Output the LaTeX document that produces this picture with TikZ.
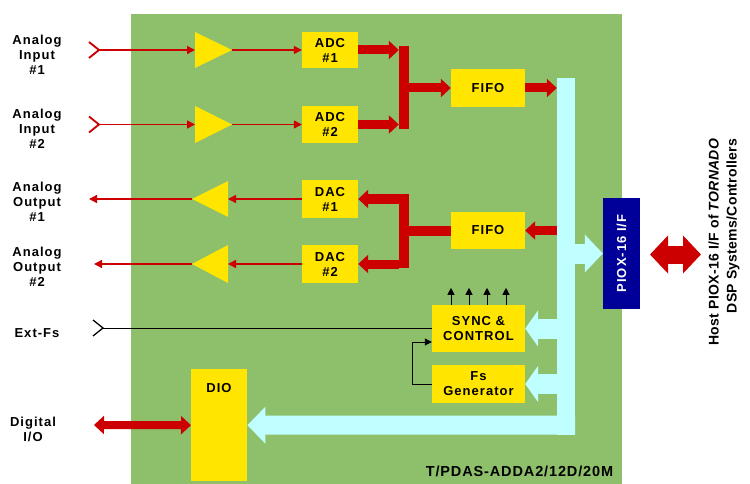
\documentclass[tikz,border=0pt]{standalone}
\usepackage{fontspec}
\setmainfont{Liberation Sans}
\newfontfamily\lblfont{Liberation Sans}[LetterSpace=8]
\newfontfamily\titlefont{Liberation Sans}[LetterSpace=6]
\newfontfamily\hostfont{Liberation Sans}[LetterSpace=2]
\usetikzlibrary{arrows.meta}
\definecolor{bggreen}{RGB}{142,191,106}
\definecolor{boxyellow}{RGB}{255,229,0}
\definecolor{sigred}{RGB}{204,0,0}
\definecolor{buscyan}{RGB}{192,255,255}
\definecolor{pionavy}{RGB}{0,0,153}
\tikzset{
  box/.style={fill=boxyellow, inner sep=0pt, align=center, font=\lblfont\bfseries\fontsize{13}{15}\selectfont},
  sidelbl/.style={align=center, inner sep=0pt, font=\lblfont\bfseries\fontsize{13}{15}\selectfont},
  thinred/.style={draw=sigred, line width=1.4pt, -{Triangle[length=8pt,width=8pt]}},
  fatred/.style={draw=sigred, line width=9pt, -{Triangle[length=10pt,width=18pt]}},
  fatcyan/.style={draw=buscyan, line width=20pt, -{Triangle[length=13pt,width=36pt]}},
  blk/.style={draw=black, line width=0.9pt, -{Triangle[length=7pt,width=7pt]}},
  amp/.style={fill=boxyellow}
}
\begin{document}
\begin{tikzpicture}[x=1pt,y=-1pt]
\useasboundingbox (0,0) rectangle (750,484);
% board
\node[fill=bggreen, minimum width=491pt, minimum height=470pt, anchor=north west, inner sep=0pt] (board) at (131,14) {};
% bus
\node[fill=buscyan, minimum width=18pt, minimum height=357pt, inner sep=0pt] (bus) at (566,256.5) {};
% boxes
\node[box, minimum width=56pt, minimum height=36pt] (adc1) at (330,50) {ADC\\\#1};
\node[box, minimum width=56pt, minimum height=37pt] (adc2) at (330,124.5) {ADC\\\#2};
\node[box, minimum width=56pt, minimum height=38pt] (dac1) at (330,199) {DAC\\\#1};
\node[box, minimum width=56pt, minimum height=38pt] (dac2) at (330,264) {DAC\\\#2};
\node[box, minimum width=74pt, minimum height=38pt] (fifo1) at (488,88) {FIFO};
\node[box, minimum width=74pt, minimum height=37pt] (fifo2) at (488,230.5) {FIFO};
\node[box, minimum width=93pt, minimum height=47pt] (sync) at (478.5,328.5) {SYNC \&\\CONTROL};
\node[box, minimum width=93pt, minimum height=38pt] (fsgen) at (478.5,384) {Fs\\Generator};
\node[box, minimum width=56pt, minimum height=112pt, anchor=north west] (dio) at (191,369) {};
\node[box, fill=none] (diolbl) at (219,388) {DIO};
\node[fill=pionavy, minimum width=111pt, minimum height=37pt, inner sep=0pt, rotate=90, text=white, font=\lblfont\bfseries\fontsize{13}{15}\selectfont] (piox) at (621.5,253.5) {PIOX-16 I/F};
% red bars
\node[fill=sigred, minimum width=10pt, minimum height=83pt, inner sep=0pt] (bar1) at (404,87.5) {};
\node[fill=sigred, minimum width=10pt, minimum height=74pt, inner sep=0pt] (bar2) at (404,231) {};
% amplifiers
\fill[amp] (195,32) -- (232,50) -- (195,68) -- cycle;
\coordinate (amp1in) at (195,50); \coordinate (amp1out) at (232,50);
\fill[amp] (195,106) -- (232,124.5) -- (195,143) -- cycle;
\coordinate (amp2in) at (195,124.5); \coordinate (amp2out) at (232,124.5);
\fill[amp] (228,181) -- (192,199) -- (228,217) -- cycle;
\coordinate (amp3in) at (228,199); \coordinate (amp3out) at (192,199);
\fill[amp] (228,245) -- (192,264) -- (228,283) -- cycle;
\coordinate (amp4in) at (228,264); \coordinate (amp4out) at (192,264);
% inputs
\coordinate (in1) at (99,50); \coordinate (in2) at (99,124.5);
\draw[sigred, line width=1.8pt] (89,42) -- (in1) -- (89,58);
\draw[sigred, line width=1.8pt] (89,116.5) -- (in2) -- (89,132.5);
\draw[thinred] (in1) -- (amp1in);
\draw[thinred] (amp1out) -- (adc1.west);
\draw[thinred] (in2) -- (amp2in);
\draw[thinred] (amp2out) -- (adc2.west);
% outputs
\coordinate (out1) at (89,199); \coordinate (out2) at (94,264);
\draw[thinred] (dac1.west) -- (amp3in);
\draw[thinred] (amp3out) -- (out1);
\draw[thinred] (dac2.west) -- (amp4in);
\draw[thinred] (amp4out) -- (out2);
% ADC side
\draw[fatred] (adc1.east) -- (adc1.east -| bar1.west);
\draw[fatred] (adc2.east) -- (adc2.east -| bar1.west);
\draw[fatred] (bar1.east |- fifo1.west) -- (fifo1.west);
\draw[fatred] (fifo1.east) -- (fifo1.east -| bus.west);
% DAC side
\draw[fatred] (bus.west |- fifo2.east) -- (fifo2.east);
\draw[sigred, line width=10pt] (fifo2.west) -- (fifo2.west -| bar2.east);
\draw[fatred] (bar2.west |- dac1.east) -- (dac1.east);
\draw[fatred] (bar2.west |- dac2.east) -- (dac2.east);
% cyan arrows
\draw[fatcyan] (bus.west |- sync.east) -- (sync.east);
\draw[fatcyan] (bus.west |- fsgen.east) -- (fsgen.east);
\coordinate (busbot) at (575,425);
\draw[draw=buscyan, line width=19pt, -{Triangle[length=18pt,width=36pt]}] (busbot) -- (dio.east);
\draw[draw=buscyan, line width=20pt, -{Triangle[length=18pt,width=37pt]}] (bus.east |- piox.center) -- (piox.north);
% host arrow
\coordinate (h1) at (650,254.5); \coordinate (h2) at (701,254.5);
\draw[sigred, line width=18pt, {Triangle[length=18pt,width=37pt]}-{Triangle[length=18pt,width=37pt]}] (h1) -- (h2);
% digital I/O
\coordinate (dig) at (94,425);
\draw[sigred, line width=8pt, {Triangle[length=10pt,width=18pt]}-{Triangle[length=10pt,width=18pt]}] (dig) -- (dio.west);
% Ext-Fs
\coordinate (extfs) at (103,328);
\draw[black, line width=1.3pt] (93,320) -- (extfs) -- (93,336);
\draw[black, line width=0.9pt] (extfs) -- (extfs -| sync.west);
% loop
\draw[blk] (fsgen.west) -- ++(-19,0) |- ([yshift=-13.5pt]sync.west);
% small control arrows
\foreach \dx in {-27.5,-9.5,8.5,27.5}
  \draw[blk] ([xshift=\dx pt]sync.north) -- ++(0,-17);
% labels
\node[sidelbl] (lin1) at (37,55) {Analog\\Input\\\#1};
\node[sidelbl] (lin2) at (37,129) {Analog\\Input\\\#2};
\node[sidelbl] (lout1) at (37,202) {Analog\\Output\\\#1};
\node[sidelbl] (lout2) at (37,267) {Analog\\Output\\\#2};
\node[sidelbl] (lext) at (37,333) {Ext-Fs};
\node[sidelbl] (ldig) at (33,429) {Digital\\I/O};
\node[font=\titlefont\bfseries\fontsize{14.5}{17}\selectfont, inner sep=0pt] (title) at (519.5,471) {T/PDAS-ADDA2/12D/20M};
\node[rotate=90, align=right, inner sep=0pt, font=\hostfont\bfseries\fontsize{14}{18}\selectfont] (host) at (724,242) {Host PIOX-16 I/F of \textit{TORNADO}\\DSP Systems/Controllers};
\end{tikzpicture}
\end{document}
